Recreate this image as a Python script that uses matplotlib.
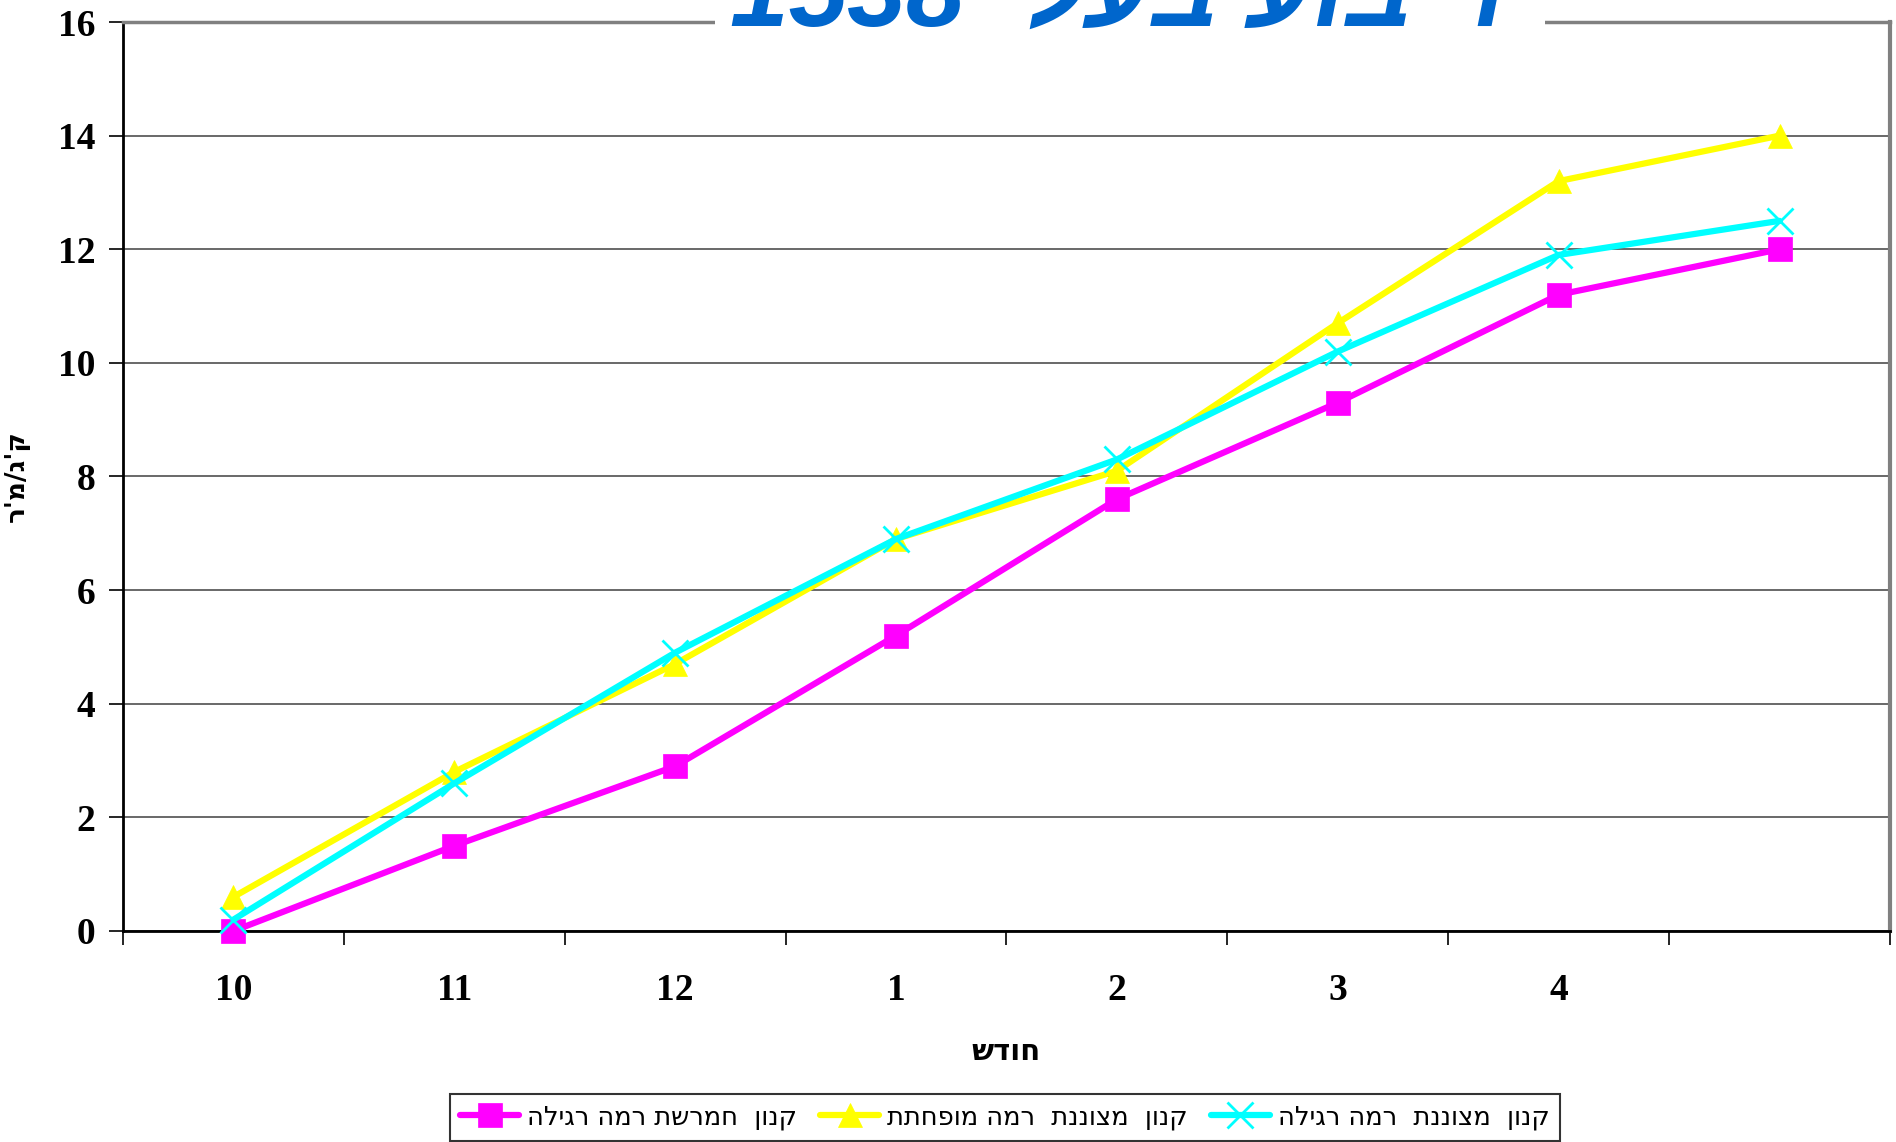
import numpy as np
import matplotlib
matplotlib.use("Agg")
import matplotlib.pyplot as plt
from matplotlib.patches import Rectangle

# נתונים
chodesh = ["10", "11", "12", "1", "2", "3", "4", ""]
kanun_chameret = [0.0, 1.5, 2.9, 5.2, 7.6, 9.3, 11.2, 12.0]
kanun_mefuchetet = [0.6, 2.8, 4.7, 6.9, 8.1, 10.7, 13.2, 14.0]
kanun_regila = [0.2, 2.6, 4.9, 6.9, 8.3, 10.2, 11.9, 12.5]

shemot = ["קנון  חמרשת רמה רגילה", "קנון  מצוננת  רמה מופחתת", "קנון  מצוננת  רמה רגילה"]
tzvaim = ["#FF00FF", "#FFFF00", "#00FFFF"]
simanim = ["s", "^", "x"]


def heb(s):
    # matplotlib לא מטפל בכיווניות - הופכים את הסדר
    return s[::-1]


plt.rcParams['font.family'] = ['Liberation Serif', 'DejaVu Sans']
ivrit = ['DejaVu Sans']

fig = plt.figure(figsize=(18.96, 11.42), dpi=100)
ax = fig.add_axes([0.0649, 0.1848, 0.9319, 0.7959])

x = np.arange(len(chodesh)) + 0.5
sidrot = [kanun_chameret, kanun_mefuchetet, kanun_regila]
for i in range(3):
    ms = 17 if simanim[i] != "x" else 19
    ax.plot(x, sidrot[i], color=tzvaim[i], lw=4.5, marker=simanim[i],
            markersize=ms, markeredgewidth=2 if simanim[i] == "x" else 0.5,
            markeredgecolor=tzvaim[i], solid_capstyle='round',
            label=heb(shemot[i]), zorder=3, clip_on=False)

ax.set_xlim(0, 8)
ax.set_ylim(0, 16)
ax.set_yticks(np.arange(0, 17, 2))
ax.set_xticks(np.arange(0, 9))
ax.set_xticklabels([])
ax.set_xticks(x, minor=True)
ax.set_xticklabels(chodesh, minor=True)
ax.tick_params(axis='x', which='minor', length=0, pad=30)
ax.tick_params(axis='x', which='major', length=10, width=1.2, direction='out')
ax.tick_params(axis='y', length=10, width=1.2, direction='out', pad=10)
for lab in ax.get_yticklabels() + ax.get_xticklabels(minor=True):
    lab.set_fontsize(27)
    lab.set_fontweight('bold')

ax.grid(axis='y', color='#404040', lw=1.1, zorder=1)
ax.spines['left'].set_linewidth(2)
ax.spines['bottom'].set_linewidth(2)
ax.spines['top'].set_color('#808080')
ax.spines['top'].set_linewidth(2.5)
ax.spines['right'].set_color('#808080')
ax.spines['right'].set_linewidth(3)

ax.set_xlabel(heb("חודש"), fontsize=21, fontweight='bold', family=ivrit, labelpad=22)
ax.set_ylabel(heb("ק'ג/מ'ר"), fontsize=19, fontweight='bold', family=ivrit, labelpad=20)

# כותרת חתוכה למעלה (כמו במקור)
fig.add_artist(Rectangle((0.377, 0.955), 0.438, 0.05, transform=fig.transFigure,
                         facecolor='white', edgecolor='none', zorder=5))
fig.text(0.596, 1 - 27 / 1142, "1538 " + heb("'ריבוע בעלי"), color='#0066CC',
         fontsize=76, fontweight='bold', fontstyle='italic',
         family=['Liberation Sans', 'DejaVu Sans'], ha='center', va='baseline', zorder=6)

leg = fig.legend(loc='upper center', bbox_to_anchor=(0.53, 0.042), ncol=3,
                 frameon=True, fancybox=False, edgecolor='black',
                 handlelength=2.3, columnspacing=0.9, handletextpad=0.3,
                 borderpad=0.4, borderaxespad=0, prop={'family': ivrit, 'size': 18.5})
leg.get_frame().set_linewidth(1.5)

fig.savefig("out.png", dpi=100)
